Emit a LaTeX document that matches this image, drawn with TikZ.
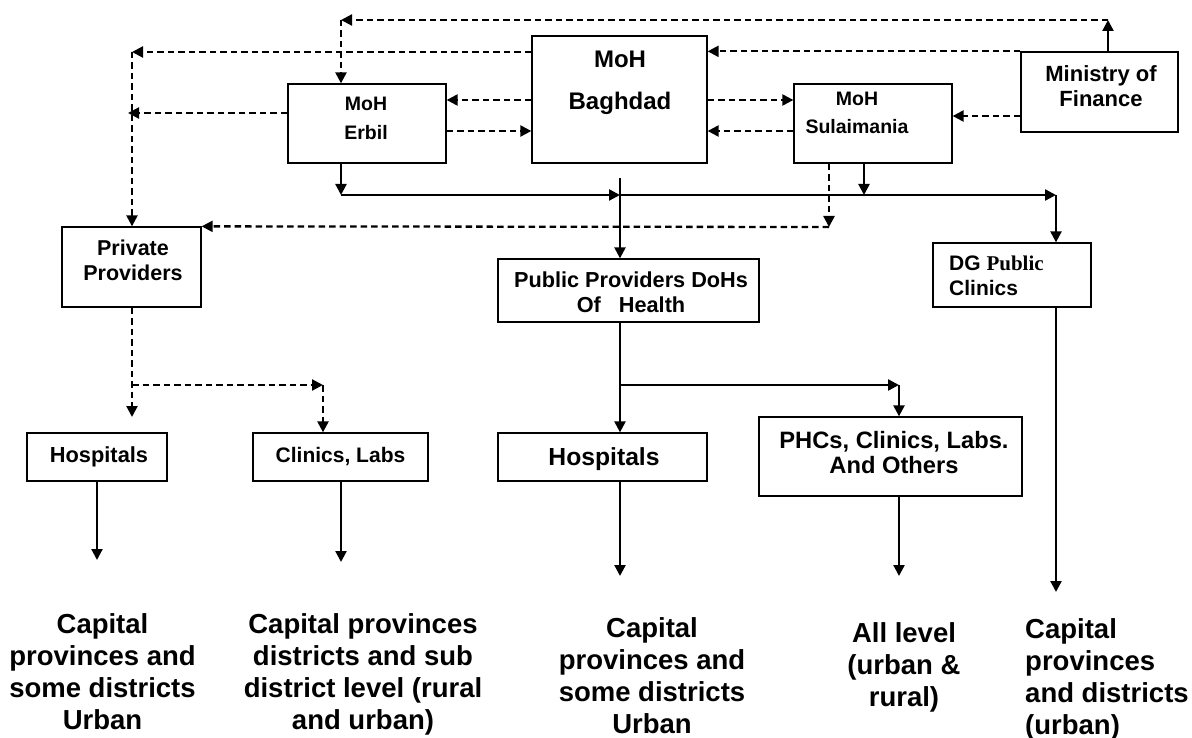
\documentclass[tikz,border=0pt]{standalone}
\usepackage{fontspec}
\setmainfont{Liberation Sans}
\newfontfamily\serifb{Liberation Serif}
\usetikzlibrary{arrows.meta}
\tikzset{
  box/.style={draw, line width=1.3pt, inner sep=0pt, rectangle},
  sol/.style={line width=2.3pt, -{Triangle[length=11pt,width=11pt]}},
  dsh/.style={sol, dash pattern=on 6.5pt off 4pt},
  txt/.style={inner sep=0pt, align=center, anchor=north},
  txtl/.style={inner sep=0pt, align=left, anchor=north west},
}
\newcommand{\fsz}[2]{\fontsize{#1}{#2}\selectfont\bfseries}
\begin{document}
\begin{tikzpicture}[x=1pt,y=-1pt]
\useasboundingbox (0,0) rectangle (1192,738);
% boxes
\node[box, minimum width=175pt, minimum height=127pt] (bag) at (619.5,99.5) {};
\node[box, minimum width=158pt, minimum height=79pt] (erb) at (367,123.5) {};
\node[box, minimum width=158pt, minimum height=79pt] (sul) at (873,123.5) {};
\node[box, minimum width=157pt, minimum height=80pt] (fin) at (1099.5,92) {};
\node[box, minimum width=139pt, minimum height=80pt] (priv) at (131.5,267) {};
\node[box, minimum width=261pt, minimum height=63pt] (pub) at (628.5,290.5) {};
\node[box, minimum width=158pt, minimum height=64pt] (dg) at (1012,275) {};
\node[box, minimum width=140pt, minimum height=48pt] (hosp1) at (97,457) {};
\node[box, minimum width=175pt, minimum height=48pt] (clin) at (340.5,457) {};
\node[box, minimum width=209pt, minimum height=48pt] (hosp2) at (602.5,457) {};
\node[box, minimum width=263pt, minimum height=79pt] (phc) at (890.5,456.5) {};
% box texts
\node[txt, font=\fsz{24}{42}] (tbag) at (620,50.8) {MoH\\Baghdad};
\node[txt, font=\fsz{19.5}{29}] (terb) at (366,97) {MoH\\Erbil};
\node[txt, font=\fsz{19.5}{28}] (tsul) at (857,92) {MoH\\Sulaimania};
\node[txt, font=\fsz{22}{25}] (tfin) at (1101,65.2) {Ministry of\\Finance};
\node[txt, font=\fsz{21.5}{25}] (tpriv) at (133,239.6) {Private\\Providers};
\node[txt, font=\fsz{21.7}{25}] (tpub) at (631,271.5) {Public Providers DoHs\\Of\ \ \ Health};
\node[txtl, font=\fsz{21}{25}] (tdg) at (949,256) {DG {\serifb Public}\\Clinics};
\node[txt, font=\fsz{21.8}{25}] (thosp1) at (99,446.4) {Hospitals};
\node[txt, font=\fsz{21}{25}] (tclin) at (340.5,447) {Clinics, Labs};
\node[txt, font=\fsz{24.7}{28}] (thosp2) at (604,447.3) {Hospitals};
\node[txt, font=\fsz{23.7}{25}] (tphc) at (894,431) {PHCs, Clinics, Labs.\\And Others};
% bottom texts
\node[txt, font=\fsz{27.5}{32}] (g1) at (102.5,613.3) {Capital\\provinces and\\some districts\\Urban};
\node[txt, font=\fsz{27.5}{32}] (g2) at (363,613.3) {Capital provinces\\districts and sub\\district level (rural\\and urban)};
\node[txt, font=\fsz{27.5}{32}] (g3) at (652,617.3) {Capital\\provinces and\\some districts\\Urban};
\node[txt, font=\fsz{27.5}{32}] (g4) at (904,622.3) {All level\\(urban \&\\rural)};
\node[txtl, font=\fsz{27.5}{32}] (g5) at (1025,618.3) {Capital\\provinces\\and districts\\(urban)};
% helper coordinates
\coordinate (finup) at (1108,20);
\coordinate (erbtop) at (341,20);
\coordinate (ppcorner) at (132,52);
\coordinate (erbleft) at (128,113);
\coordinate (y100) at (0,100);
\coordinate (y131) at (0,131);
\coordinate (y116) at (0,116);
\coordinate (busL) at (341,195);
\coordinate (busM) at (620,195);
\coordinate (busR) at (1056,195);
\coordinate (pubtop) at (620,178);
\coordinate (sulbus) at (864,195);
\coordinate (suldash) at (829,227);
\coordinate (ppend) at (132,417);
\coordinate (ppbr) at (132,385);
\coordinate (clinbr) at (323,385);
\coordinate (pubbr) at (620,385);
\coordinate (phcbr) at (899,385);
\coordinate (e1) at (97,560);
\coordinate (e2) at (341,562);
\coordinate (e3) at (620,576);
\coordinate (e4) at (899,576);
\coordinate (e5) at (1056,592);
% connectors
\draw[sol] (fin.north -| finup) -- (finup);
\draw[dsh] (finup) -- (erbtop);
\draw[dsh] (erbtop) -- (erbtop |- erb.north);
\draw[dsh] (fin.north west) -- (fin.north west -| bag.east);
\draw[dsh] (bag.west |- ppcorner) -- (ppcorner);
\draw[dsh] (ppcorner) -- (ppcorner |- priv.north);
\draw[dsh] (erb.west |- erbleft) -- (erbleft);
\draw[dsh] (bag.west |- y100) -- (erb.east |- y100);
\draw[dsh] (erb.east |- y131) -- (bag.west |- y131);
\draw[dsh] (bag.east |- y100) -- (sul.west |- y100);
\draw[dsh] (sul.west |- y131) -- (bag.east |- y131);
\draw[dsh] (fin.west |- y116) -- (sul.east |- y116);
\draw[sol] (erb.south -| busL) -- (busL);
\draw[sol] (busL) -- (busM);
\draw[sol] (busM) -- (busR);
\draw[sol] (busR) -- (busR |- dg.north);
\draw[sol] (pubtop) -- (pubtop |- pub.north);
\draw[sol] (sul.south -| sulbus) -- (sulbus);
\draw[dsh] (sul.south -| suldash) -- (suldash);
\draw[dsh] (suldash) -- (priv.north east);
\draw[dsh] (priv.south -| ppend) -- (ppend);
\draw[dsh] (ppbr) -- (clinbr);
\draw[dsh] (clinbr) -- (clinbr |- clin.north);
\draw[sol] (pub.south -| pubbr) -- (pubbr |- hosp2.north);
\draw[sol] (pubbr) -- (phcbr);
\draw[sol] (phcbr) -- (phcbr |- phc.north);
\draw[sol] (hosp1.south -| e1) -- (e1);
\draw[sol] (clin.south -| e2) -- (e2);
\draw[sol] (hosp2.south -| e3) -- (e3);
\draw[sol] (phc.south -| e4) -- (e4);
\draw[sol] (dg.south -| e5) -- (e5);
\end{tikzpicture}
\end{document}
